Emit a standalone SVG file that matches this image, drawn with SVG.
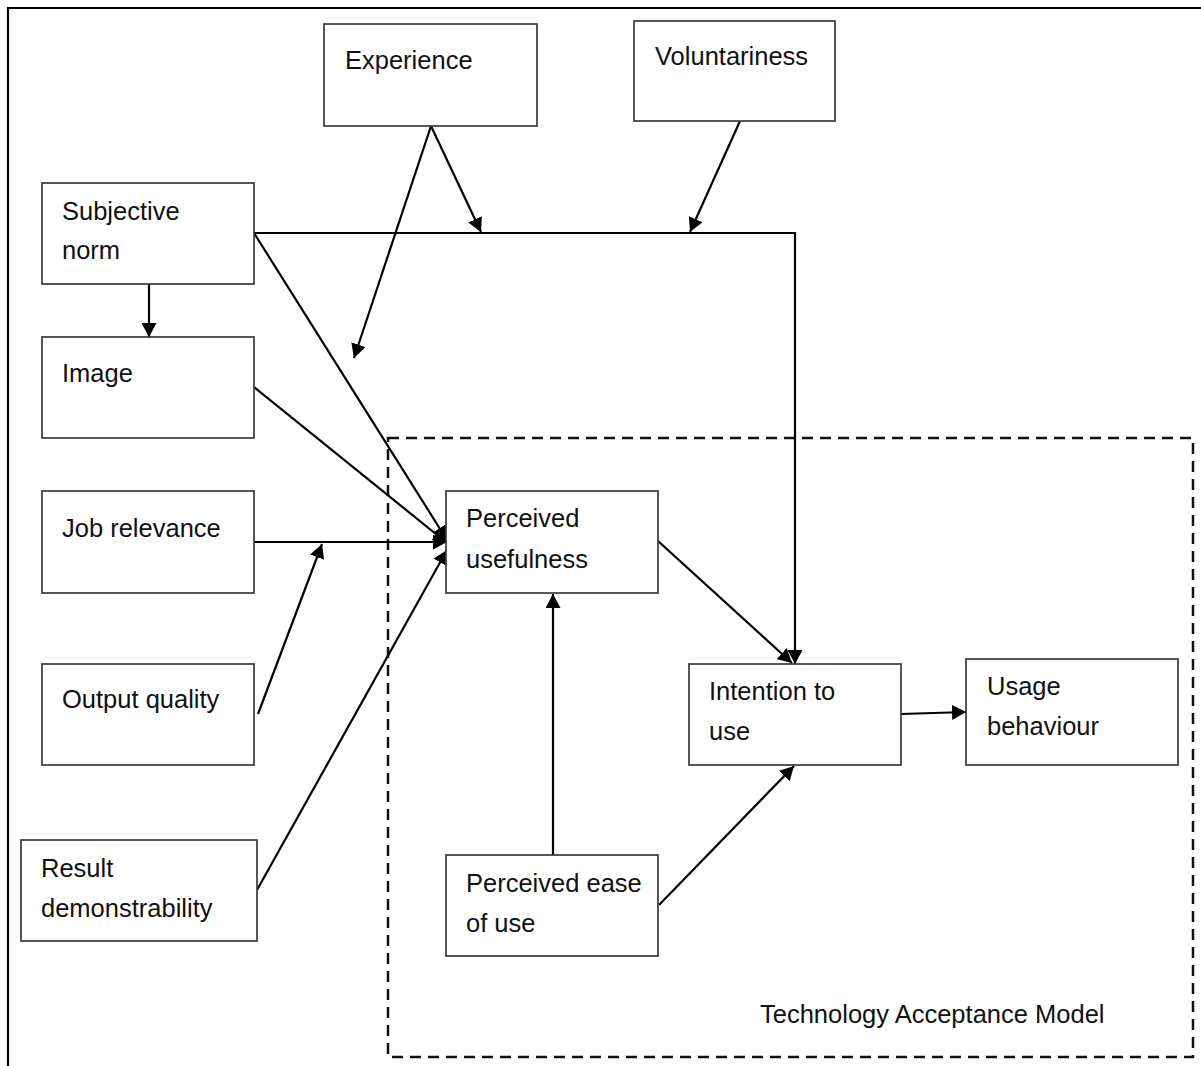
<svg xmlns="http://www.w3.org/2000/svg" width="1201" height="1066" viewBox="0 0 1201 1066">
  <style>
    .box { fill: #ffffff; stroke: #3a3a3a; stroke-width: 1.7; }
    .lbl { font-family: "Liberation Sans", Arial, sans-serif; font-size: 25.5px; fill: #111111; }
    .edge { fill: none; stroke: #000000; stroke-width: 2.2; }
    .frame { fill: none; stroke: #000000; stroke-width: 2.2; }
    .tam { fill: none; stroke: #111111; stroke-width: 2.5; stroke-dasharray: 11 7; }
  </style>
  <defs>
    <marker id="arrow" markerUnits="userSpaceOnUse" markerWidth="15" markerHeight="15" refX="14" refY="7.5" orient="auto">
      <path d="M0,0 L14,7.5 L0,15 z" fill="#000000"/>
    </marker>
  </defs>

  <rect width="1201" height="1066" fill="#ffffff"/>

  <!-- outer frame (top and left edges) -->
  <path class="frame" d="M8,1066 V8 H1201"/>

  <!-- Technology Acceptance Model boundary -->
  <g id="tam-boundary">
    <rect class="tam" x="388" y="438" width="805" height="619"/>
    <text class="lbl" x="760" y="1023">Technology Acceptance Model</text>
  </g>

  <!-- connectors -->
  <g id="connectors">
    <!-- subjective norm -> intention to use (moderated by experience and voluntariness) -->
    <path class="edge" d="M254,233 H795 V664" marker-end="url(#arrow)"/>
    <!-- experience moderators -->
    <line class="edge" x1="431" y1="126" x2="481" y2="232" marker-end="url(#arrow)"/>
    <line class="edge" x1="431" y1="126" x2="354" y2="358" marker-end="url(#arrow)"/>
    <!-- voluntariness moderator -->
    <line class="edge" x1="740" y1="121" x2="690" y2="232" marker-end="url(#arrow)"/>
    <!-- subjective norm -> image -->
    <line class="edge" x1="149" y1="284" x2="149" y2="337" marker-end="url(#arrow)"/>
    <!-- determinants of perceived usefulness -->
    <line class="edge" x1="254" y1="233" x2="447" y2="540" marker-end="url(#arrow)"/>
    <line class="edge" x1="254" y1="387" x2="447" y2="543" marker-end="url(#arrow)"/>
    <line class="edge" x1="254" y1="542" x2="447" y2="542" marker-end="url(#arrow)"/>
    <line class="edge" x1="257" y1="890" x2="447" y2="550" marker-end="url(#arrow)"/>
    <!-- output quality moderates job relevance -->
    <line class="edge" x1="258" y1="714" x2="322" y2="544" marker-end="url(#arrow)"/>
    <!-- TAM core -->
    <line class="edge" x1="658" y1="541" x2="792" y2="663" marker-end="url(#arrow)"/>
    <line class="edge" x1="553" y1="855" x2="553" y2="594" marker-end="url(#arrow)"/>
    <line class="edge" x1="659" y1="905" x2="794" y2="766" marker-end="url(#arrow)"/>
    <line class="edge" x1="901" y1="714" x2="966" y2="712" marker-end="url(#arrow)"/>
  </g>

  <!-- nodes -->
  <g id="experience">
    <rect class="box" x="324" y="24" width="213" height="102"/>
    <text class="lbl" x="345" y="69">Experience</text>
  </g>
  <g id="voluntariness">
    <rect class="box" x="634" y="21" width="201" height="100"/>
    <text class="lbl" x="655" y="65">Voluntariness</text>
  </g>
  <g id="subjective-norm">
    <rect class="box" x="42" y="183" width="212" height="101"/>
    <text class="lbl" x="62" y="220">Subjective</text>
    <text class="lbl" x="62" y="259">norm</text>
  </g>
  <g id="image">
    <rect class="box" x="42" y="337" width="212" height="101"/>
    <text class="lbl" x="62" y="382">Image</text>
  </g>
  <g id="job-relevance">
    <rect class="box" x="42" y="491" width="212" height="102"/>
    <text class="lbl" x="62" y="537">Job relevance</text>
  </g>
  <g id="output-quality">
    <rect class="box" x="42" y="664" width="212" height="101"/>
    <text class="lbl" x="62" y="708">Output quality</text>
  </g>
  <g id="result-demonstrability">
    <rect class="box" x="21" y="840" width="236" height="101"/>
    <text class="lbl" x="41" y="877">Result</text>
    <text class="lbl" x="41" y="917">demonstrability</text>
  </g>
  <g id="perceived-usefulness">
    <rect class="box" x="446" y="491" width="212" height="102"/>
    <text class="lbl" x="466" y="527">Perceived</text>
    <text class="lbl" x="466" y="568">usefulness</text>
  </g>
  <g id="perceived-ease-of-use">
    <rect class="box" x="446" y="855" width="212" height="101"/>
    <text class="lbl" x="466" y="892">Perceived ease</text>
    <text class="lbl" x="466" y="932">of use</text>
  </g>
  <g id="intention-to-use">
    <rect class="box" x="689" y="664" width="212" height="101"/>
    <text class="lbl" x="709" y="700">Intention to</text>
    <text class="lbl" x="709" y="740">use</text>
  </g>
  <g id="usage-behaviour">
    <rect class="box" x="966" y="659" width="212" height="106"/>
    <text class="lbl" x="987" y="695">Usage</text>
    <text class="lbl" x="987" y="735">behaviour</text>
  </g>
</svg>
